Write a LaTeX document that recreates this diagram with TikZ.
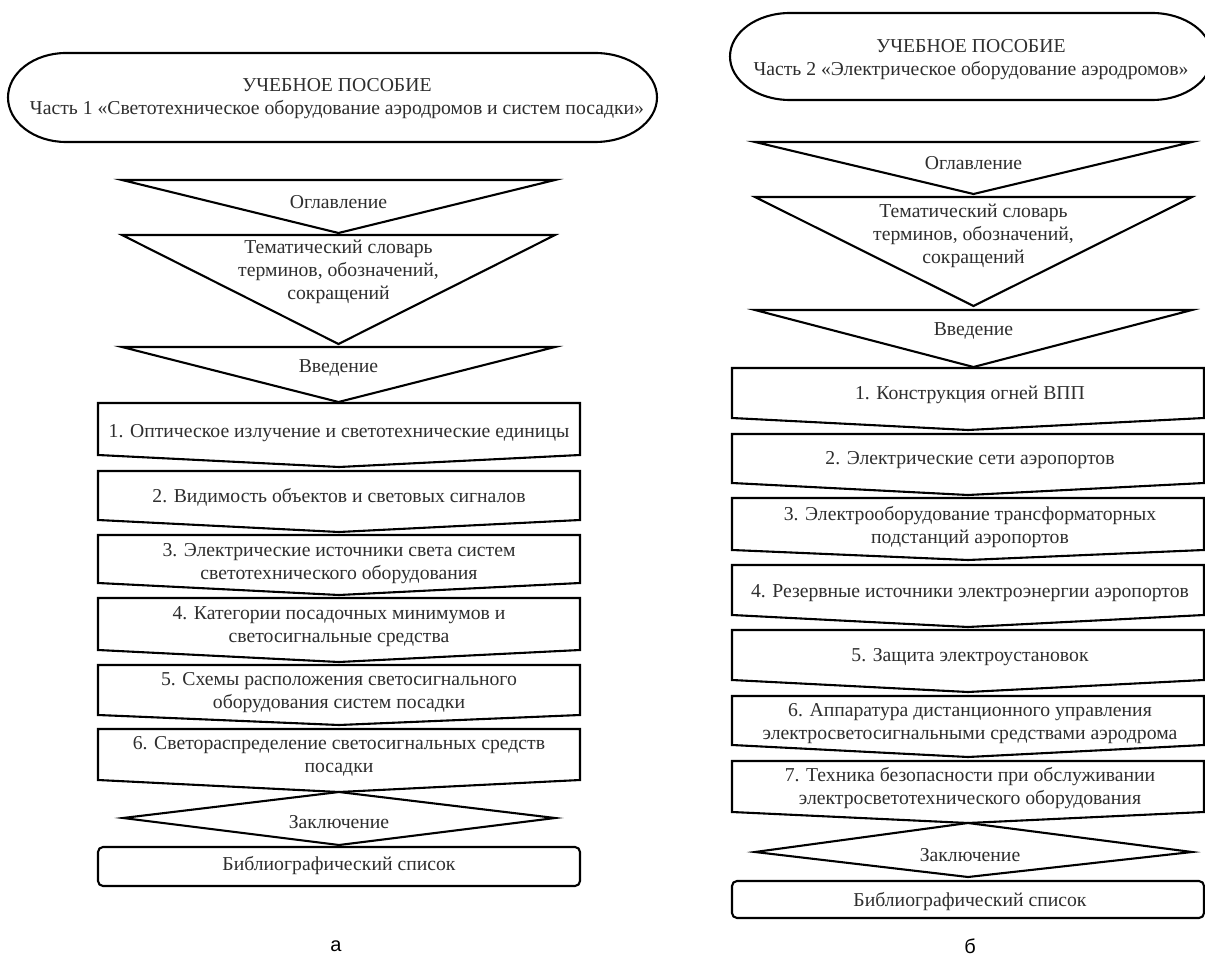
\documentclass[tikz,border=0pt]{standalone}
\usepackage{fontspec}
\setmainfont{Liberation Serif}
\newfontfamily\labfont{Liberation Sans}
\begin{document}
\begin{tikzpicture}[x=1pt,y=-1pt,
  shp/.style={draw=black, line width=2.1pt, line join=miter, fill=white},
  txt/.style={font=\fontsize{19.7}{23}\selectfont, align=center, text=black!82, inner sep=0pt},
  lab/.style={font=\labfont\fontsize{20}{24}\selectfont, text=black, inner sep=0pt}]
\useasboundingbox (0,0) rectangle (1205,957);
\clip (0,0) rectangle (1205,957);
\fill[white] (0,0) rectangle (1205,957);

% ---------------- Left panel (a) ----------------
\draw[shp] (66,53) -- (595,53) arc[start angle=-90, end angle=90, x radius=62, y radius=44.5]
  -- (66,142) arc[start angle=90, end angle=270, x radius=58, y radius=44.5] -- cycle;
\node[txt] (a0) at (337,99) {УЧЕБНОЕ ПОСОБИЕ\\Часть 1 «Светотехническое оборудование аэродромов и систем посадки»};

\draw[shp] (122,180) -- (555,180) -- (338.5,233) -- cycle;
\node[txt] (a1) at (338.5,202) {Оглавление};
\draw[shp] (122,235) -- (555,235) -- (338.5,344) -- cycle;
\node[txt] (a2) at (338.5,272) {Тематический словарь\\терминов, обозначений,\\сокращений};
\draw[shp] (122,347) -- (555,347) -- (338.5,402) -- cycle;
\node[txt] (a3) at (338.5,368) {Введение};

\draw[shp] (98,403) -- (580,403) -- (580,455) -- (339,467) -- (98,455) -- cycle;
\node[txt] (b1) at (339,433) {1. Оптическое излучение и светотехнические единицы};
\draw[shp] (98,471) -- (580,471) -- (580,520) -- (339,532) -- (98,520) -- cycle;
\node[txt] (b2) at (339,497) {2. Видимость объектов и световых сигналов};
\draw[shp] (98,535) -- (580,535) -- (580,583) -- (339,595) -- (98,583) -- cycle;
\node[txt] (b3) at (339,563.5) {3. Электрические источники света систем\\светотехнического оборудования};
\draw[shp] (98,598) -- (580,598) -- (580,650) -- (339,662) -- (98,650) -- cycle;
\node[txt] (b4) at (339,626.5) {4. Категории посадочных минимумов и\\светосигнальные средства};
\draw[shp] (98,665) -- (580,665) -- (580,715) -- (339,725) -- (98,715) -- cycle;
\node[txt] (b5) at (339,692.5) {5. Схемы расположения светосигнального\\оборудования систем посадки};
\draw[shp] (98,729) -- (580,729) -- (580,780) -- (339,792) -- (98,780) -- cycle;
\node[txt] (b6) at (339,756.5) {6. Светораспределение светосигнальных средств\\посадки};
\draw[shp] (339,792) -- (555,818) -- (339,845) -- (123,818) -- cycle;
\node[txt] (b7) at (339,822) {Заключение};
\draw[shp, rounded corners=5pt] (98,847) rectangle (580,886);
\node[txt] (b8) at (339,866) {Библиографический список};

\node[lab] (la) at (336,946) {а};

% ---------------- Right panel (б) ----------------
\draw[shp] (790,13) -- (1152,13) arc[start angle=-90, end angle=90, x radius=60, y radius=43.5]
  -- (790,100) arc[start angle=90, end angle=270, x radius=60, y radius=43.5] -- cycle;
\node[txt] (c0) at (971,59.5) {УЧЕБНОЕ ПОСОБИЕ\\Часть 2 «Электрическое оборудование аэродромов»};

\draw[shp] (755,142) -- (1192,142) -- (973.5,194) -- cycle;
\node[txt] (c1) at (973.5,163) {Оглавление};
\draw[shp] (755,197) -- (1192,197) -- (973.5,306) -- cycle;
\node[txt] (c2) at (973.5,236) {Тематический словарь\\терминов, обозначений,\\сокращений};
\draw[shp] (755,310) -- (1192,310) -- (973.5,367) -- cycle;
\node[txt] (c3) at (973.5,331) {Введение};

\draw[shp] (732,368) -- (1204,368) -- (1204,418) -- (968,430) -- (732,418) -- cycle;
\node[txt] (d1) at (970,395) {1. Конструкция огней ВПП};
\draw[shp] (732,434) -- (1204,434) -- (1204,483) -- (968,495) -- (732,483) -- cycle;
\node[txt] (d2) at (970,460) {2. Электрические сети аэропортов};
\draw[shp] (732,498) -- (1204,498) -- (1204,550) -- (968,560) -- (732,550) -- cycle;
\node[txt] (d3) at (970,527.5) {3. Электрооборудование трансформаторных\\подстанций аэропортов};
\draw[shp] (732,565) -- (1204,565) -- (1204,615) -- (968,627) -- (732,615) -- cycle;
\node[txt] (d4) at (970,593) {4. Резервные источники электроэнергии аэропортов};
\draw[shp] (732,630) -- (1204,630) -- (1204,680) -- (968,692) -- (732,680) -- cycle;
\node[txt] (d5) at (970,657) {5. Защита электроустановок};
\draw[shp] (732,696) -- (1204,696) -- (1204,745) -- (968,757) -- (732,745) -- cycle;
\node[txt] (d6) at (970,723.5) {6. Аппаратура дистанционного управления\\электросветосигнальными средствами аэродрома};
\draw[shp] (732,761) -- (1204,761) -- (1204,812) -- (968,823) -- (732,812) -- cycle;
\node[txt] (d7) at (970,788.5) {7. Техника безопасности при обслуживании\\электросветотехнического оборудования};
\draw[shp] (968,823) -- (1192,852) -- (968,877) -- (755,852) -- cycle;
\node[txt] (d8) at (970,855) {Заключение};
\draw[shp, rounded corners=5pt] (732,881) rectangle (1204,918);
\node[txt] (d9) at (970,902) {Библиографический список};

\node[lab] (lb) at (970,946) {б};
\end{tikzpicture}
\end{document}
